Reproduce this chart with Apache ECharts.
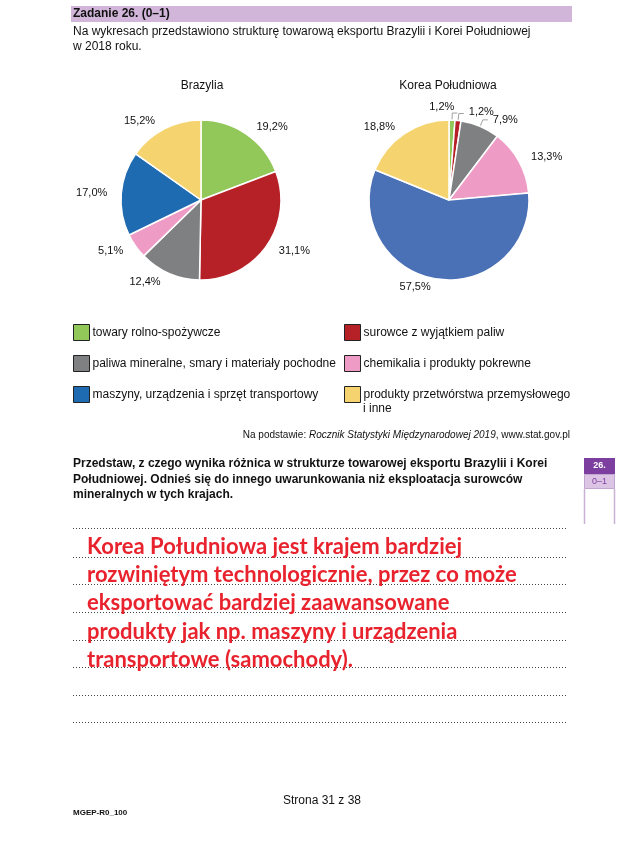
<!DOCTYPE html>
<html>
<head>
<meta charset="utf-8">
<script src="https://cdn.jsdelivr.net/npm/echarts@6/dist/echarts.min.js"></script>
<style>
  html, body { margin: 0; padding: 0; background: #fff; }
  #chart { width: 642px; height: 845px; }
</style>
</head>
<body>
<div id="chart"></div>
<script>
const categories = [
  'towary rolno-spożywcze',
  'surowce z wyjątkiem paliw',
  'paliwa mineralne, smary i materiały pochodne',
  'chemikalia i produkty pokrewne',
  'maszyny, urządzenia i sprzęt transportowy',
  'produkty przetwórstwa przemysłowego i inne'
]
const brazilValues = [19.2, 31.1, 12.4, 5.1, 17.0, 15.2]
const koreaValues = [1.2, 1.2, 7.9, 13.3, 57.5, 18.8]
const brazilColors = ['#92c85a', '#b52127', '#7f8082', '#ee9cc6', '#1f6bb2', '#f5d470']
const koreaColors = ['#92c85a', '#b52127', '#7f8082', '#ee9cc6', '#4a70b6', '#f5d470']
// które wycinki Korei mają linie odniesienia
const koreaLeader = [true, true, true, false, false, false]

const answerLines = [
  'Korea Południowa jest krajem bardziej',
  'rozwiniętym technologicznie, przez co może',
  'eksportować bardziej zaawansowane',
  'produkty jak np. maszyny i urządzenia',
  'transportowe (samochody).'
]
const questionLines = [
  'Przedstaw, z czego wynika różnica w strukturze towarowej eksportu Brazylii i Korei',
  'Południowej. Odnieś się do innego uwarunkowania niż eksploatacja surowców',
  'mineralnych w tych krajach.'
]

const FONT = '"Liberation Sans", Arial, sans-serif'
const fmt = (p) => p.value.toFixed(1).replace('.', ',') + '%'

function pieData(values, colors, leaders) {
  return categories.map((name, i) => {
    const item = { name, value: values[i], itemStyle: { color: colors[i] } }
    if (leaders) {
      item.labelLine = leaders[i]
        ? { show: true, length: 7, length2: 5 }
        : { show: false, length: 8, length2: 0 }
    }
    return item
  })
}

// linie kropkowane na odpowiedź
const dotLinesY = [528, 557, 584, 612, 640, 667, 695, 722]

const graphics = [
  // pasek nagłówka
  { type: 'rect', shape: { x: 71, y: 6, width: 501, height: 16 }, style: { fill: '#d1b6da' } },
  { type: 'text', x: 73, y: 14, style: { text: 'Zadanie 26. (0–1)', font: 'bold 12px ' + FONT, fill: '#111', verticalAlign: 'middle' } },
  { type: 'text', x: 73, y: 32, style: { text: 'Na wykresach przedstawiono strukturę towarową eksportu Brazylii i Korei Południowej', font: '12px ' + FONT, fill: '#111', verticalAlign: 'middle' } },
  { type: 'text', x: 73, y: 47, style: { text: 'w 2018 roku.', font: '12px ' + FONT, fill: '#111', verticalAlign: 'middle' } },
  // druga linia opisu legendy
  { type: 'text', x: 363, y: 409, style: { text: 'i inne', font: '12px ' + FONT, fill: '#111', verticalAlign: 'middle' } },
  // źródło
  {
    type: 'text', x: 570, y: 435,
    style: {
      text: '{n|Na podstawie: }{i|Rocznik Statystyki Międzynarodowej 2019}{n|, www.stat.gov.pl}',
      align: 'right', verticalAlign: 'middle',
      rich: {
        n: { fontFamily: FONT, fontSize: 10, fill: '#111' },
        i: { fontFamily: FONT, fontSize: 10, fontStyle: 'italic', fill: '#111' }
      }
    }
  },
  // ramka z punktacją
  { type: 'rect', shape: { x: 584, y: 458, width: 31, height: 16 }, style: { fill: '#7d3f9f' } },
  { type: 'text', x: 599.5, y: 466, style: { text: '26.', font: 'bold 9px ' + FONT, fill: '#fff', align: 'center', verticalAlign: 'middle' } },
  { type: 'rect', shape: { x: 584.5, y: 474.5, width: 30, height: 14 }, style: { fill: '#dcc4e4', stroke: '#c3a6cf', lineWidth: 1 } },
  { type: 'text', x: 599.5, y: 482, style: { text: '0–1', font: '9px ' + FONT, fill: '#7d3f9f', align: 'center', verticalAlign: 'middle' } },
  { type: 'line', shape: { x1: 584.5, y1: 489, x2: 584.5, y2: 524 }, style: { stroke: '#c9b0d4', lineWidth: 1.5 } },
  { type: 'line', shape: { x1: 614.5, y1: 489, x2: 614.5, y2: 524 }, style: { stroke: '#c9b0d4', lineWidth: 1.5 } },
  // stopka
  { type: 'text', x: 322, y: 801, style: { text: 'Strona 31 z 38', font: '12px ' + FONT, fill: '#111', align: 'center', verticalAlign: 'middle' } },
  { type: 'text', x: 73, y: 813, style: { text: 'MGEP-R0_100', font: 'bold 8px ' + FONT, fill: '#111', verticalAlign: 'middle' } }
]

questionLines.forEach((t, i) => {
  graphics.push({ type: 'text', x: 73, y: 464 + i * 15.5, style: { text: t, font: 'bold 12px ' + FONT, fill: '#111', verticalAlign: 'middle' } })
})
dotLinesY.forEach((y) => {
  graphics.push({ type: 'line', shape: { x1: 73, y1: y + 0.5, x2: 568, y2: y + 0.5 }, style: { stroke: '#444', lineWidth: 1, lineDash: [1, 2] } })
})
answerLines.forEach((t, i) => {
  graphics.push({ type: 'text', x: 87, y: 547 + i * 28.2, z: 10, style: { text: t, font: 'bold 22px Lato, "Open Sans", sans-serif', fill: '#e8232e', verticalAlign: 'middle' } })
})

const legendBase = {
  orient: 'vertical',
  padding: 0,
  itemWidth: 16,
  itemHeight: 16,
  itemGap: 14,
  icon: 'rect',
  selectedMode: false,
  itemStyle: { borderColor: '#222', borderWidth: 1 },
  textStyle: { fontFamily: FONT, fontSize: 12, color: '#111', lineHeight: 16, padding: [0, 0, 0, -2] },
  formatter: (name) => name === categories[5] ? 'produkty przetwórstwa przemysłowego' : name
}

const myCharts = echarts.init(document.getElementById('chart'), null, { renderer: 'canvas' })
myCharts.setOption({
  animation: false,
  backgroundColor: '#fff',
  title: [
    { text: 'Brazylia', left: 202, top: 80, textAlign: 'center', padding: 0, textStyle: { fontFamily: FONT, fontSize: 12, fontWeight: 'normal', color: '#111' } },
    { text: 'Korea Południowa', left: 448, top: 80, textAlign: 'center', padding: 0, textStyle: { fontFamily: FONT, fontSize: 12, fontWeight: 'normal', color: '#111' } }
  ],
  legend: [
    Object.assign({}, legendBase, { left: 73, top: 324, data: [categories[0], categories[2], categories[4]] }),
    Object.assign({}, legendBase, { left: 344, top: 324, data: [categories[1], categories[3], categories[5]] })
  ],
  graphic: { elements: graphics },
  series: [
    {
      name: 'Brazylia',
      type: 'pie',
      center: [201, 200],
      radius: 80,
      startAngle: 90,
      clockwise: true,
      avoidLabelOverlap: false,
      itemStyle: { borderColor: '#fff', borderWidth: 1.5 },
      label: { position: 'outside', formatter: fmt, fontFamily: FONT, fontSize: 11, color: '#111' },
      labelLine: { show: false, length: 9, length2: 0 },
      emphasis: { disabled: true },
      data: pieData(brazilValues, brazilColors)
    },
    {
      name: 'Korea Południowa',
      type: 'pie',
      center: [449, 200],
      radius: 80,
      startAngle: 90,
      clockwise: true,
      avoidLabelOverlap: false,
      itemStyle: { borderColor: '#fff', borderWidth: 1.5 },
      label: { position: 'outside', formatter: fmt, fontFamily: FONT, fontSize: 11, color: '#111' },
      labelLine: { lineStyle: { color: '#a0a0a0', width: 1 } },
      labelLayout: (params) => {
        // mała zielona etykieta po lewej stronie linii
        if (params.dataIndex === 0) return { dx: -params.labelRect.width - 8, dy: -6 }
        if (params.dataIndex === 1) return { dy: -2 }
        return {}
      },
      emphasis: { disabled: true },
      data: pieData(koreaValues, koreaColors, koreaLeader)
    }
  ]
})
</script>
</body>
</html>
